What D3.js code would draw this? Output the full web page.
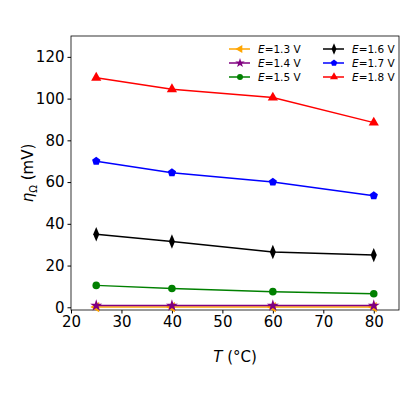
<!DOCTYPE html><html><head><script src="https://cdn.jsdelivr.net/npm/d3@7"></script>
<style>body{margin:0;background:#fff}text{font-family:"DejaVu Sans",sans-serif}</style></head><body><svg width="400" height="400"></svg>
<script>
const temps=[25,40,60,80];
const labels=["1.3","1.4","1.5","1.6","1.7","1.8"];
const e13=[0.1,0.1,0.1,0.1];
const e14=[0.8,0.8,0.8,0.8];
const e15=[10.5,9,7.5,6.5];
const e16=[35,31.5,26.5,25];
const e17=[70,64.5,60,53.5];
const e18=[110,104.5,100.5,88.5];
const xTicks=[20,30,40,50,60,70,80];
const yTicks=[0,20,40,60,80,100,120];
const series=[e13,e14,e15,e16,e17,e18];
const colors=["orange","purple","green","black","blue","red"];
const shapes=[d3.symbolTriangle,d3.symbolStar,d3.symbolCircle,d3.symbolDiamond,"pent",d3.symbolTriangle];
const svg=d3.select("svg");
const L=71,R=399,T=36,B=310;
const x=d3.scaleLinear().domain([20,85]).range([L,R]);
const y=d3.scaleLinear().domain([-1.3,130]).range([B,T]);
svg.append("g").attr("transform",`translate(0,${B})`).call(d3.axisBottom(x).tickValues(xTicks).tickSize(3.5).tickPadding(3)).attr("font-size",15);
svg.append("g").attr("transform",`translate(${L},0)`).call(d3.axisLeft(y).tickValues(yTicks).tickSize(3.5).tickPadding(3)).attr("font-size",15);
svg.selectAll(".domain").remove();
svg.append("rect").attr("x",L).attr("y",T).attr("width",R-L).attr("height",B-T).attr("fill","none").attr("stroke","black").attr("stroke-width",0.8);
const pent=d3.symbol().type({draw(c,s){const r=Math.sqrt(s/2.38);for(let i=0;i<5;i++){const a=-Math.PI/2+i*2*Math.PI/5;i?c.lineTo(r*Math.cos(a),r*Math.sin(a)):c.moveTo(r*Math.cos(a),r*Math.sin(a));}c.closePath();}}).size(40);
function marker(i,sz){if(shapes[i]==="pent")return pent.size(sz)();return d3.symbol().type(shapes[i]).size(sz)();}
const tf=i=>(i===0?" rotate(-90)":"")+(i===3?" scale(0.8,1.1)":"");
const line=d3.line().x((d,i)=>x(temps[i])).y(d=>y(d));
series.forEach((s,i)=>{
 svg.append("path").attr("d",line(s)).attr("fill","none").attr("stroke",colors[i]).attr("stroke-width",1.5);
 s.forEach((v,j)=>{svg.append("path").attr("d",marker(i,i===3?50:45)).attr("fill",colors[i])
  .attr("transform",`translate(${x(temps[j])},${y(v)})`+tf(i));});
});
labels.forEach((lab,i)=>{const col=Math.floor(i/3),row=i%3;const lx=229+col*94,ly=49+row*14;
 svg.append("line").attr("x1",lx).attr("x2",lx+21).attr("y1",ly).attr("y2",ly).attr("stroke",colors[i]).attr("stroke-width",1.5);
 svg.append("path").attr("d",marker(i,i===3?32:28)).attr("fill",colors[i]).attr("transform",`translate(${lx+11},${ly})`+tf(i));
 const t=svg.append("text").attr("x",lx+29).attr("y",ly+4).attr("font-size",10.5);
 t.append("tspan").attr("font-style","italic").text("E");t.append("tspan").text("="+lab+" V");});
svg.append("text").attr("x",235).attr("y",362).attr("text-anchor","middle").attr("font-size",15)
 .html('<tspan font-style="italic">T</tspan> (°C)');
svg.append("text").attr("transform","translate(33,173) rotate(-90)").attr("text-anchor","middle").attr("font-size",15)
 .html('<tspan font-style="italic">η</tspan><tspan font-size="10" dy="4">Ω</tspan><tspan dy="-4"> (mV)</tspan>');
</script></body></html>
